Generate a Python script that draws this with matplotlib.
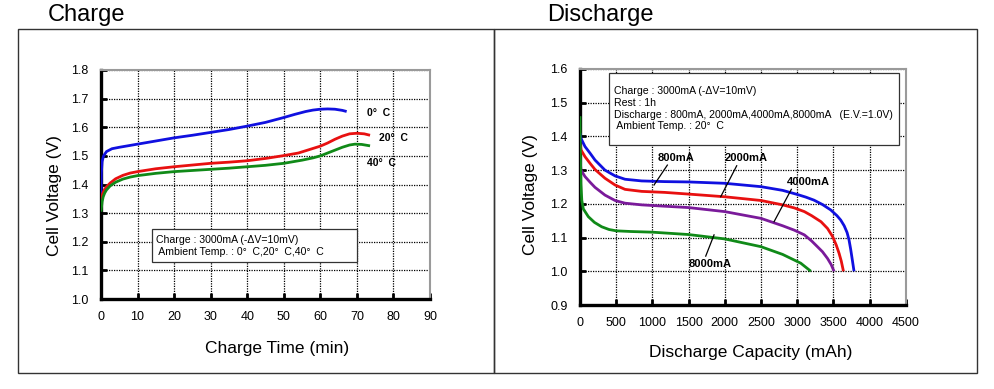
import matplotlib
matplotlib.use("Agg")
import matplotlib.pyplot as plt
from matplotlib.patches import Rectangle

plt.rcParams['font.family'] = ['Liberation Sans', 'DejaVu Sans']

# ---------------- Charge data ----------------
charge_t_0C = [0, 0.1, 0.3, 0.7, 1.5, 3, 5, 10, 15, 20, 25, 30, 35, 40, 45, 50, 53, 56, 58, 60, 62, 64, 66, 67.2]
charge_v_0C = [1.35, 1.44, 1.48, 1.50, 1.515, 1.525, 1.53, 1.541, 1.552, 1.563, 1.572, 1.582, 1.592, 1.604,
               1.617, 1.634, 1.645, 1.655, 1.66, 1.663, 1.664, 1.663, 1.659, 1.655]
charge_t_20C = [0, 0.5, 1, 1.5, 2.5, 4, 6, 8, 10, 15, 20, 25, 30, 35, 40, 45, 50, 54, 57, 60, 62, 64, 66, 68,
                70, 72, 73.6]
charge_v_20C = [1.345, 1.37, 1.383, 1.392, 1.405, 1.42, 1.432, 1.44, 1.445, 1.455, 1.462, 1.468, 1.474, 1.478,
                1.483, 1.491, 1.501, 1.51, 1.522, 1.534, 1.545, 1.558, 1.569, 1.577, 1.579, 1.577, 1.572]
charge_t_40C = [0, 0.3, 0.6, 1, 1.5, 2.5, 4, 6, 8, 10, 15, 20, 25, 30, 35, 40, 45, 50, 55, 58, 60, 62, 64, 66,
                68, 69.5, 71.3, 73.6]
charge_v_40C = [1.305, 1.34, 1.357, 1.37, 1.381, 1.395, 1.408, 1.419, 1.426, 1.431, 1.439, 1.445, 1.449, 1.453,
                1.457, 1.462, 1.467, 1.474, 1.485, 1.493, 1.50, 1.51, 1.52, 1.53, 1.538, 1.541, 1.54, 1.535]
charge_labels = ["0°  C", "20°  C", "40°  C"]
charge_colors = ["#1010e0", "#e81010", "#108a18"]
charge_xticks = [0, 10, 20, 30, 40, 50, 60, 70, 80, 90]
charge_yticks = [1.0, 1.1, 1.2, 1.3, 1.4, 1.5, 1.6, 1.7, 1.8]

# ---------------- Discharge data ----------------
dis_c_800 = [0, 14, 69, 140, 207, 345, 484, 622, 852, 1170, 1500, 2000, 2500, 2800, 3000, 3120, 3233, 3350,
             3464, 3550, 3602, 3650, 3690, 3717, 3740, 3763, 3786]
dis_v_800 = [1.41, 1.394, 1.37, 1.35, 1.33, 1.30, 1.283, 1.273, 1.268, 1.266, 1.265, 1.261, 1.251, 1.24, 1.228,
             1.22, 1.211, 1.198, 1.182, 1.165, 1.152, 1.135, 1.115, 1.093, 1.065, 1.033, 1.0]
dis_c_2000 = [0, 14, 69, 140, 207, 345, 484, 622, 852, 1170, 1500, 2000, 2500, 2800, 2960, 3100, 3200, 3330,
              3420, 3490, 3540, 3580, 3610, 3640]
dis_v_2000 = [1.38, 1.36, 1.34, 1.32, 1.302, 1.276, 1.256, 1.243, 1.237, 1.234, 1.229, 1.221, 1.21, 1.197,
              1.188, 1.177, 1.165, 1.147, 1.127, 1.103, 1.078, 1.053, 1.03, 1.0]
dis_c_4000 = [0, 14, 69, 140, 207, 345, 484, 622, 852, 1170, 1500, 2000, 2500, 2800, 2960, 3100, 3200, 3280,
              3350, 3420, 3470, 3510]
dis_v_4000 = [1.33, 1.30, 1.281, 1.264, 1.249, 1.226, 1.21, 1.202, 1.197, 1.193, 1.189, 1.177, 1.157, 1.135,
              1.122, 1.108, 1.09, 1.073, 1.058, 1.038, 1.02, 1.0]
dis_c_8000 = [0, 5, 12, 25, 46, 115, 200, 300, 400, 500, 700, 1000, 1500, 2000, 2500, 2800, 3050, 3190]
dis_v_8000 = [1.46, 1.35, 1.26, 1.21, 1.185, 1.162, 1.145, 1.132, 1.124, 1.12, 1.118, 1.116, 1.109, 1.096,
              1.073, 1.05, 1.024, 1.0]
dis_labels = ["800mA", "2000mA", "4000mA", "8000mA"]
dis_colors = ["#1010e0", "#e81010", "#7a1a9a", "#108a18"]
dis_xticks = [0, 500, 1000, 1500, 2000, 2500, 3000, 3500, 4000, 4500]
dis_yticks = [0.9, 1.0, 1.1, 1.2, 1.3, 1.4, 1.5, 1.6]

W, H = 994, 389
fig = plt.figure(figsize=(W / 100, H / 100), dpi=100)


def fx(px):
    return px / W


def fy(py):
    return 1 - py / H


# outer boxes
for x0, x1 in [(18, 494), (494, 977)]:
    fig.patches.append(Rectangle((fx(x0), fy(373)), fx(x1) - fx(x0), fy(29) - fy(373),
                                 transform=fig.transFigure, fill=False, edgecolor="#333333", lw=1.0))
fig.text(fx(48), fy(15), "Charge", fontsize=17, ha="left", va="center")
fig.text(fx(547), fy(15), "Discharge", fontsize=17, ha="left", va="center")


def style_axes(ax, xticks, yticks, fmt_y):
    ax.set_xticks(xticks)
    ax.set_yticks(yticks)
    ax.set_yticklabels([fmt_y % v for v in yticks])
    ax.grid(True, color="black", linestyle=(0, (1, 1)), linewidth=0.9)
    ax.set_axisbelow(True)
    for s in ["top", "right"]:
        ax.spines[s].set_color("#9a9a9a")
        ax.spines[s].set_linewidth(1.5)
    for s in ["left", "bottom"]:
        ax.spines[s].set_color("black")
        ax.spines[s].set_linewidth(2.4)
    ax.tick_params(direction="in", length=4, width=2, color="black", labelsize=9, pad=9)


def place_labels(ax, xl, yl):
    ax.xaxis.set_label_coords(*xl)
    ax.yaxis.set_label_coords(*yl)
    ax.xaxis.label.set_va("center")
    ax.yaxis.label.set_va("center")


# ---------------- Charge axes ----------------
ax1 = fig.add_axes([fx(101), fy(299), fx(430) - fx(101), fy(70) - fy(299)])
for t, v, c in zip([charge_t_0C, charge_t_20C, charge_t_40C],
                   [charge_v_0C, charge_v_20C, charge_v_40C], charge_colors):
    ax1.plot(t, v, color=c, lw=2.0, solid_capstyle="butt", solid_joinstyle="round", zorder=3)
ax1.set_xlim(0, 90)
ax1.set_ylim(1.0, 1.8)
style_axes(ax1, charge_xticks, charge_yticks, "%.1f")
ax1.set_xlabel("Charge Time (min)", fontsize=12.5)
ax1.set_ylabel("Cell Voltage (V)", fontsize=12.5)
place_labels(ax1, (0.535, -0.214), (-0.14, 0.45))
for lab, (x, y) in zip(charge_labels, [(72.7, 1.651), (76.0, 1.561), (72.7, 1.474)]):
    ax1.text(x, y, lab, fontsize=7.5, fontweight="bold", ha="left", va="center")
ax1.add_patch(Rectangle((14.0, 1.129), 70.0 - 14.0, 1.2446 - 1.129, facecolor="white",
                        edgecolor="#333333", lw=0.9, zorder=4))
ax1.text(15.0, 1.185,
         "Charge : 3000mA (-\u0394V=10mV)\n Ambient Temp. : 0°  C,20°  C,40°  C",
         fontsize=7.6, ha="left", va="center", linespacing=1.3, zorder=5)

# ---------------- Discharge axes ----------------
ax2 = fig.add_axes([fx(580), fy(305), fx(905.7) - fx(580), fy(69) - fy(305)])
for c_, v, col in zip([dis_c_800, dis_c_2000, dis_c_4000, dis_c_8000],
                      [dis_v_800, dis_v_2000, dis_v_4000, dis_v_8000], dis_colors):
    ax2.plot(c_, v, color=col, lw=2.0, solid_capstyle="butt", solid_joinstyle="round", zorder=3)
ax2.set_xlim(0, 4500)
ax2.set_ylim(0.9, 1.6)
style_axes(ax2, dis_xticks, dis_yticks, "%.1f")
ax2.set_xlabel("Discharge Capacity (mAh)", fontsize=12.5)
ax2.set_ylabel("Cell Voltage (V)", fontsize=12.5)
place_labels(ax2, (0.525, -0.203), (-0.1535, 0.466))

label_pos = [(1322, 1.337), (2289, 1.337), (3151, 1.266), (1792, 1.022)]
leaders = [((1207, 1.315), (1023, 1.256)), ((2165, 1.313), (1944, 1.221)),
           ((2920, 1.243), (2681, 1.147)), ((1852, 1.108), (1737, 1.045))]
for lab, (x, y), (p0, p1) in zip(dis_labels, label_pos, leaders):
    ax2.text(x, y, lab, fontsize=8, fontweight="bold", ha="center", va="center", zorder=6)
    ax2.plot([p0[0], p1[0]], [p0[1], p1[1]], color="black", lw=0.9, zorder=6)

ax2.text(470, 1.482,
         "Charge : 3000mA (-\u0394V=10mV)\nRest : 1h\nDischarge : 800mA, 2000mA,4000mA,8000mA   (E.V.=1.0V)\n"
         " Ambient Temp. : 20°  C",
         fontsize=7.6, ha="left", va="center", linespacing=1.2, zorder=5)
ax2.add_patch(Rectangle((400, 1.375), 4408 - 400, 1.589 - 1.375, facecolor="white",
                        edgecolor="#333333", lw=0.9, zorder=4))

fig.savefig("out.png", dpi=100)
